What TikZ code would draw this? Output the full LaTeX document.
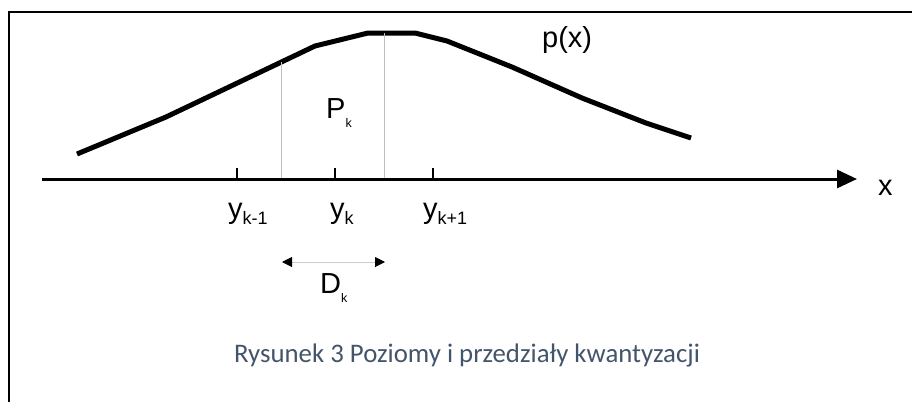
\documentclass[tikz,border=0pt]{standalone}
\usepackage{fontspec}
\setmainfont{Liberation Sans}
\newfontfamily\capfont{Carlito}
\usetikzlibrary{arrows.meta}
\definecolor{capblue}{HTML}{44546A}
\tikzset{
  lbl/.style={inner sep=0pt, anchor=base west, font=\fontsize{29}{29}\selectfont},
  curve/.style={line width=5pt, line join=round},
  axis/.style={line width=3pt, -{Triangle[length=20pt, width=18pt]}},
  tick/.style={line width=2pt},
  bound/.style={line width=1pt, black!25},
  width/.style={line width=1pt, black!20,
    {Triangle[length=10pt, width=10pt, color=black]}-{Triangle[length=10pt, width=10pt, color=black]}},
  caption/.style={inner sep=0pt, anchor=base, text=capblue,
    font=\capfont\fontsize{26.8}{26.8}\selectfont},
}
\newcommand{\ysub}[1]{\raisebox{-6pt}{\fontsize{18}{18}\selectfont #1}}
\newcommand{\psub}[1]{\raisebox{-9pt}{\fontsize{12.5}{12.5}\selectfont #1}}

\begin{document}
\begin{tikzpicture}[x=1pt, y=-1pt]
  \useasboundingbox (0,0) rectangle (912,402);
  % frame
  \draw[line width=2pt] (9,402) -- (9,12) -- (912,12);
  % density curve
  \draw[curve] (77,154) -- (166,117) -- (315,46) -- (368,33) -- (415,33)
    -- (447,41) -- (512,67) -- (582,98) -- (646,123) -- (691,138);
  % interval bounds
  \coordinate (lo) at (281,179);
  \coordinate (hi) at (384,179);
  \draw[bound] (lo) -- (281,62);
  \draw[bound] (hi) -- (384,33);
  % axis and levels
  \coordinate (o) at (42,179);
  \coordinate (xend) at (857,179);
  \draw[axis] (o) -- (xend);
  \foreach \t/\xx in {km/237, k/335, kp/433}
    \draw[tick] (\xx,168) coordinate (t\t) -- (\xx,179);
  \node[lbl] (ykm) at (228,218) {y\ysub{k-1}};
  \node[lbl] (yk) at (330,218) {y\ysub{k}};
  \node[lbl] (ykp) at (423,218) {y\ysub{k+1}};
  \node[lbl] (xlab) at (878,195) {x};
  \node[lbl] (px) at (542,47) {p(x)};
  \node[lbl] (pk) at (326,118) {P\psub{k}};
  % width of interval
  \coordinate (dl) at (282,262);
  \coordinate (dr) at (385,262);
  \draw[width] (dl) -- (dr);
  \node[lbl] (dk) at (320,293) {D\psub{k}};
  \node[caption] (cap) at (467,362) {Rysunek 3 Poziomy i przedziały kwantyzacji};
\end{tikzpicture}
\end{document}
